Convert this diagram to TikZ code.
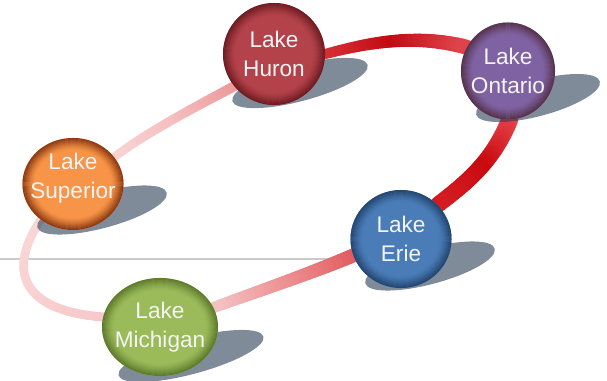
\documentclass[tikz,border=0pt]{standalone}
\usepackage{fontspec}
\setmainfont{Liberation Sans}
\usetikzlibrary{shapes.geometric,calc}

\newcommand\defball[3]{%
  \definecolor{#1B}{HTML}{#2}%
  \definecolor{#1R}{HTML}{#3}%
}
\defball{hur}{B3424A}{6A1A20}
\defball{ont}{7F62A1}{553048}
\defball{eri}{4A7DB8}{22436C}
\defball{sup}{F79447}{843410}
\defball{mic}{9BBA5A}{5A772A}

% inner dark rim of a lake: #1 node, #2 x radius, #3 y radius, #4 colour
\newcommand\ballrim[4]{%
  \foreach \i in {0,...,11}{%
    \pgfmathsetmacro{\op}{0.92*(1-\i/12)^1.6}%
    \pgfmathsetmacro{\rxx}{#2-0.55-\i}%
    \pgfmathsetmacro{\ryy}{#3-0.55-\i}%
    \draw[draw=#4, draw opacity=\op, line width=1.15pt] (#1.center) ellipse [x radius=\rxx, y radius=\ryy];%
  }%
}

\definecolor{shadc}{HTML}{2A3E55}
\definecolor{lineg}{HTML}{CACACA}
\definecolor{txtc}{HTML}{F4F4F4}
% band colours
\definecolor{pA}{HTML}{F9D6D6}
\definecolor{pB}{HTML}{F5C0C1}
\definecolor{pC}{HTML}{EE9A9C}
\definecolor{rA}{HTML}{D63238}
\definecolor{rB}{HTML}{C30A12}
\definecolor{rC}{HTML}{E0454C}
\definecolor{sA}{HTML}{E5474D}
\definecolor{sB}{HTML}{C90A10}
\definecolor{sC}{HTML}{D41C22}
\definecolor{tA}{HTML}{E0585C}
\definecolor{tB}{HTML}{EC8E90}
\definecolor{tC}{HTML}{F4C3C4}
\definecolor{uA}{HTML}{F6C8C9}
\definecolor{uB}{HTML}{F9D2D3}
\definecolor{uC}{HTML}{F9D6D6}

% #1 start, #2 ctrl1 (rel), #3 ctrl2 (rel to end), #4 end,
% #5 #6 #7 colours (start, mid, end), #8 #9 widths
\newcommand\bandseg[9]{%
  \foreach \k in {0,...,30}{%
    \pgfmathsetmacro{\bpos}{\k/30}%
    \path #1 .. controls +#2 and +#3 .. #4 coordinate[pos=\bpos] (bq\k);%
  }%
  \foreach \k [count=\j from 0] in {1,...,30}{%
    \pgfmathtruncatemacro{\ma}{round(min(100,200*(\k-0.5)/30))}%
    \pgfmathtruncatemacro{\mc}{round(100-max(0,200*(\k-0.5)/30-100))}%
    \pgfmathsetmacro{\lw}{#8+(#9-#8)*(\k-0.5)/30}%
    \draw[line width=\lw pt, line cap=round, color=#6!\ma!#5!\mc!#7] (bq\j) -- (bq\k);%
  }%
}

\tikzset{
  lake/.style={ellipse, inner sep=0pt, draw=none, text=txtc, align=center,
    font=\fontsize{22.6}{29}\selectfont},
  laketxt/.style={inner sep=0pt, text=txtc, align=center,
    font=\fontsize{22.6}{29}\selectfont},
  shadowell/.style={ellipse, fill=shadc, fill opacity=0.6, draw=none,
    inner sep=0pt, minimum height=36pt, rotate=15},
}

\begin{document}
\begin{tikzpicture}[x=1pt,y=1pt]
\useasboundingbox (0,0) rectangle (607,-380);

% horizontal rule
\draw[color=lineg, line width=1.3pt] (0,-259) -- (360,-259);

% positions of the lakes
\node[lake, minimum width=102pt, minimum height=102pt] (hur) at (274,-54) {};
\node[lake, minimum width=94pt,  minimum height=97pt]  (ont) at (508,-71) {};
\node[lake, minimum width=101pt, minimum height=98pt]  (eri) at (401,-239) {};
\node[lake, minimum width=101pt, minimum height=92pt]  (sup) at (73,-184) {};
\node[lake, minimum width=116pt, minimum height=98pt]  (mic) at (160,-327) {};

% ring bands
\bandseg{(sup.33)}{(31.5,24.6)}{(-35.3,-18.8)}{(hur.219)}{pA}{pB}{pC}{8.5}{10}
\bandseg{(hur.0)}{(48.3,12.9)}{(-48.3,12.9)}{(ont.150)}{rA}{rB}{rC}{10}{15}
\bandseg{(ont.-88)}{(-15.7,-38.9)}{(33.5,25.3)}{(eri.43)}{sA}{sB}{sC}{17}{16}
\bandseg{(eri.199)}{(-41.4,-17.6)}{(42.3,15.4)}{(mic.20)}{tA}{tB}{tC}{14}{11}
\bandseg{(mic.170)}{(-80,6)}{(-35,-52)}{(sup.228)}{uA}{uB}{uC}{9}{8.5}

% shadows
\node[shadowell, minimum width=140pt] (hurS) at (300,-83) {};
\node[shadowell, minimum width=128pt] (ontS) at (538,-98) {};
\node[shadowell, minimum width=134pt] (eriS) at (430,-266) {};
\node[shadowell, minimum width=134pt] (supS) at (102,-210) {};
\node[shadowell, minimum width=150pt] (micS) at (191,-356) {};

% lakes: fill, dark inner rim, text
\node[lake, fill=hurB, minimum width=102pt, minimum height=102pt] (hurC) at (hur) {};
\ballrim{hurC}{51}{51}{hurR}
\node[lake, fill=ontB, minimum width=94pt,  minimum height=97pt]  (ontC) at (ont) {};
\ballrim{ontC}{47}{48.5}{ontR}
\node[lake, fill=eriB, minimum width=101pt, minimum height=98pt]  (eriC) at (eri) {};
\ballrim{eriC}{50.5}{49}{eriR}
\node[lake, fill=supB, minimum width=101pt, minimum height=92pt]  (supC) at (sup) {};
\ballrim{supC}{50.5}{46}{supR}
\node[lake, fill=micB, minimum width=116pt, minimum height=98pt]  (micC) at (mic) {};
\ballrim{micC}{58}{49}{micR}

\node[laketxt] (hurT) at (hur) {Lake\\Huron};
\node[laketxt] (ontT) at (ont) {Lake\\Ontario};
\node[laketxt] (eriT) at (eri) {Lake\\Erie};
\node[laketxt] (supT) at ([yshift=6pt]sup.center) {Lake\\Superior};
\node[laketxt] (micT) at (mic) {Lake\\Michigan};
\end{tikzpicture}
\end{document}
